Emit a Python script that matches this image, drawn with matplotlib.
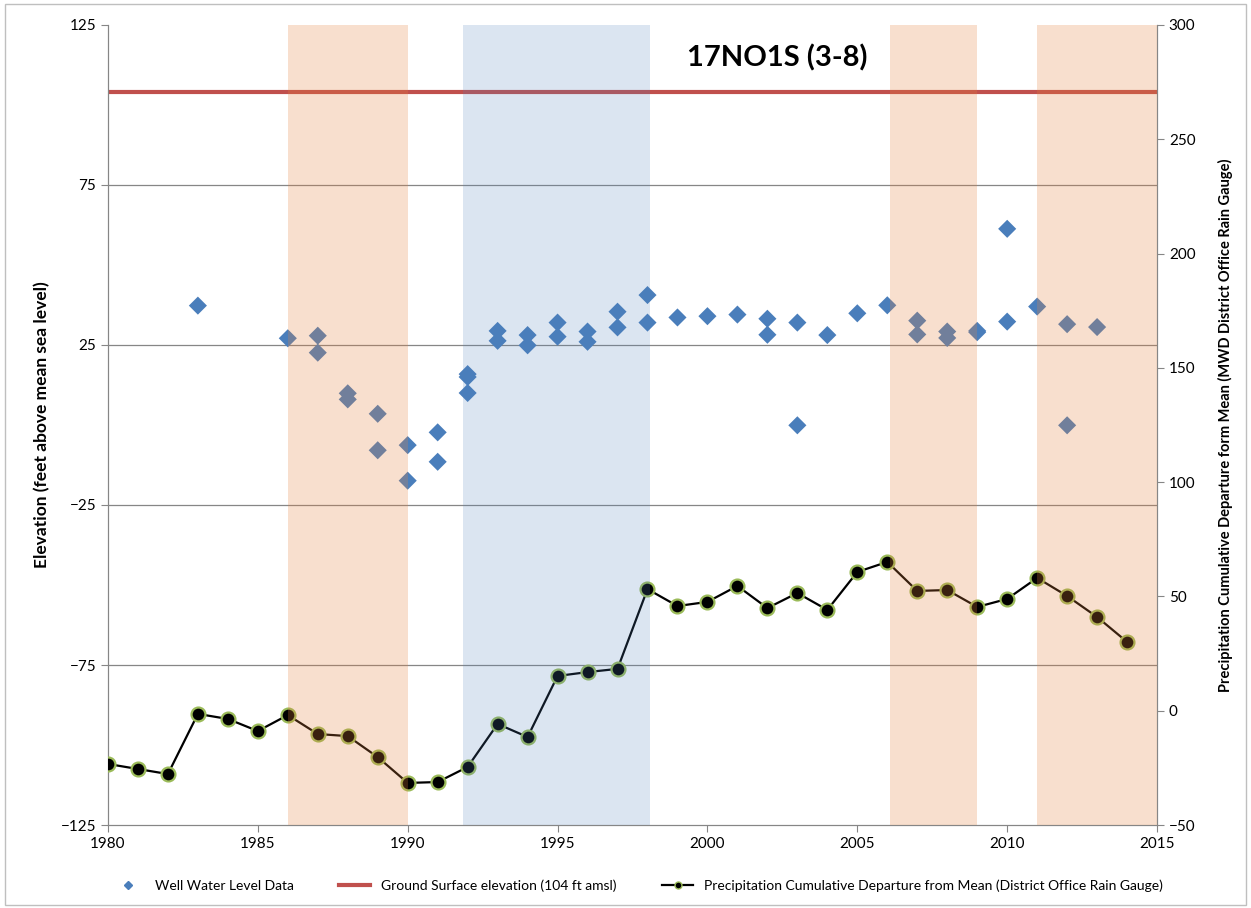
import numpy as np
import matplotlib
matplotlib.use('Agg')
import matplotlib.pyplot as plt
from matplotlib.lines import Line2D
from matplotlib.patches import Rectangle

plt.rcParams['font.family'] = ['Lato', 'DejaVu Sans']

# ── data ─────────────────────────────────────────────────────
well_years = [1983, 1986, 1987, 1987, 1988, 1988, 1989, 1989, 1990, 1990,
              1991, 1991, 1992, 1992, 1992, 1993, 1993, 1994, 1994, 1995, 1995,
              1996, 1996, 1997, 1997, 1998, 1998, 1999, 2000, 2001,
              2002, 2002, 2003, 2003, 2004, 2005, 2006, 2007, 2007,
              2008, 2008, 2009, 2009, 2010, 2010, 2011, 2012, 2012, 2013]
well_level = [37.3, 27.1, 27.9, 22.6, 9.9, 8.0, 3.5, -7.9, -6.3, -17.4,
              -2.3, -11.5, 15.9, 15.0, 10.0, 29.4, 26.3, 28.1, 24.9, 32.0, 27.6,
              29.2, 26.0, 35.4, 30.5, 40.6, 32.0, 33.6, 34.0, 34.5,
              33.2, 28.2, 32.0, -0.1, 28.1, 34.9, 37.4, 32.6, 28.3,
              29.2, 27.2, 29.4, 29.0, 61.3, 32.3, 37.0, 31.5, -0.1, 30.6]

precip_years = list(range(1980, 2015))
precip_dep = [-23.3, -25.5, -27.7, -1.4, -3.6, -8.9, -1.9, -10.2, -11.1, -20.3,
              -31.6, -31.2, -24.6, -5.8, -11.5, 15.2, 16.9, 18.3, 53.2, 45.8,
              47.6, 54.6, 44.9, 51.5, 44.1, 60.7, 65.1, 52.4, 52.8, 45.4,
              48.9, 58.1, 50.2, 41.0, 30.1]

ground_elev = 104

dry_periods = [(1986, 1990), (2006.09, 2009.0), (2011.0, 2015)]
wet_periods = [(1991.83, 1998.09)]

# ── chart ────────────────────────────────────────────────────
fig = plt.figure(figsize=(12.51, 9.08), dpi=100)
ax = fig.add_axes([0.0863, 0.0914, 0.8386, 0.8811])
ax2 = ax.twinx()

grey = '#868686'
for y in [75, 25, -25, -75]:
    ax.axhline(y, color=grey, lw=0.9, zorder=1)

ax.axhline(ground_elev, color='#C0504D', lw=3, zorder=2)
ax.scatter(well_years, well_level, marker='D', s=85, color='#4A7EBB',
           edgecolors='none', zorder=3)

ax2.plot(precip_years, precip_dep, color='black', lw=1.6, marker='o', ms=10,
         mfc='black', mec='#9BBB59', mew=1.6, zorder=3)

for a, b in dry_periods:
    ax2.axvspan(a, b, color='#E6823C', alpha=0.25, lw=0, zorder=5)
for a, b in wet_periods:
    ax2.axvspan(a, b, color='#4F81BD', alpha=0.2, lw=0, zorder=5)

ax.set_xlim(1980, 2015)
ax.set_ylim(-125, 125)
ax2.set_ylim(-50, 300)
ax.set_xticks(range(1980, 2016, 5))
ax.set_yticks([125, 75, 25, -25, -75, -125])
ax2.set_yticks(range(-50, 301, 50))

for a in (ax, ax2):
    a.spines['top'].set_visible(False)
    for s in ('left', 'right', 'bottom'):
        a.spines[s].set_color(grey)
    a.tick_params(labelsize=11, color=grey, length=5, direction='out')

ax.set_ylabel('Elevation (feet above mean sea level)', fontsize=12.5,
              fontweight='bold')
ax.yaxis.set_label_coords(-0.055, 0.5)
ax2.set_ylabel('Precipitation Cumulative Departure form Mean (MWD District Office Rain Gauge)',
               fontsize=10.5, fontweight='bold')
ax2.yaxis.set_label_coords(1.058, 0.5)

ax.text(0.6375, 0.959, '17NO1S (3-8)', transform=ax.transAxes, fontsize=21,
        fontweight='bold', ha='center', va='center', zorder=10)

handles = [
    Line2D([], [], ls='none', marker='D', ms=4, color='#4A7EBB'),
    Line2D([], [], color='#C0504D', lw=3),
    Line2D([], [], color='black', lw=1.6, marker='o', ms=5, mfc='black',
           mec='#9BBB59', mew=1),
]
labels = ['Well Water Level Data', 'Ground Surface elevation (104 ft amsl)',
          'Precipitation Cumulative Departure from Mean (District Office Rain Gauge)']
fig.legend(handles, labels, loc='center', bbox_to_anchor=(0.51, 0.025), ncol=3,
           frameon=False, fontsize=10, handlelength=2.2, columnspacing=3.3)

fig.patches.append(Rectangle((0.004, 0.003), 0.992, 0.993, transform=fig.transFigure,
                             fill=False, edgecolor='#BFBFBF', lw=1))

fig.savefig('out.png', dpi=100)
